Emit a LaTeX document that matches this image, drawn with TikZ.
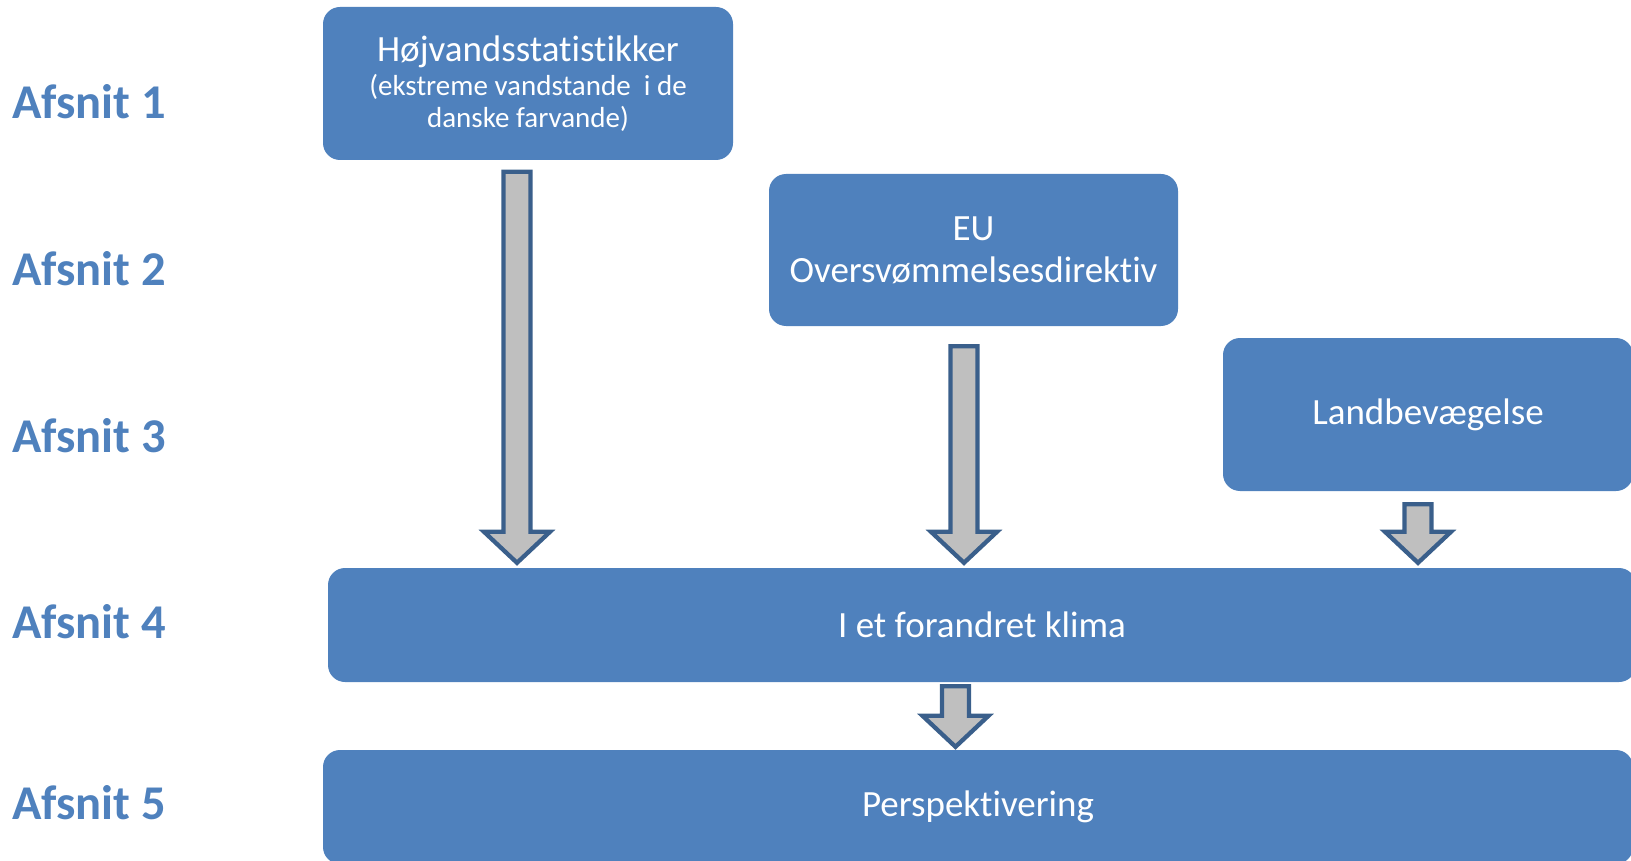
\documentclass[tikz,border=0pt]{standalone}
\usepackage{fontspec}
\setmainfont{Carlito}[RawFeature={-liga;-clig;-calt;-dlig}]
\usetikzlibrary{calc,positioning}
\definecolor{boksblaa}{HTML}{4F81BD}
\definecolor{pilblaa}{HTML}{3A5F8B}
\definecolor{pilgraa}{HTML}{BFBFBF}
\tikzset{
    % Boxes
    boks/.style={
           rectangle,
           rounded corners=17pt,
           fill=boksblaa,
           text=white,
           inner sep=0pt,
           align=center,
           font=\fontsize{37}{41.6}\selectfont},
    % Section labels
    afsnit/.style={
           anchor=base west,
           inner sep=0pt,
           text=boksblaa,
           font=\bfseries\fontsize{48.5}{50}\selectfont},
    % Block arrows
    pil/.style={
           fill=pilgraa,
           draw=pilblaa,
           line width=4.3pt,
           line join=miter}
}
% block arrow from a top coordinate down to a tip coordinate
\newcommand{\blokpil}[2]{%
  \draw[pil] ($(#1)+(-13.5,0)$) -- ($(#1)+(13.5,0)$)
    -- ($(#1|-#2)+(13.5,-31)$) -- ($(#1|-#2)+(33,-31)$)
    -- (#1|-#2)
    -- ($(#1|-#2)+(-33,-31)$) -- ($(#1|-#2)+(-13.5,-31)$) -- cycle;}

\begin{document}
\begin{tikzpicture}[x=1pt,y=-1pt]
\useasboundingbox (0,0) rectangle (1631,861);
\clip (0,0) rectangle (1631,861);

% sections
\node[afsnit] (af1) at (12,119) {Afsnit 1};
\node[afsnit] (af2) at (12,285.5) {Afsnit 2};
\node[afsnit] (af3) at (12,452) {Afsnit 3};
\node[afsnit] (af4) at (12,638.5) {Afsnit 4};
\node[afsnit] (af5) at (12,819.5) {Afsnit 5};

% boxes
\node[boks, minimum width=410pt, minimum height=153pt,
      font=\fontsize{29}{32.3}\selectfont] (hoj) at (528,83.5)
      {{\fontsize{37}{41.6}\selectfont Højvandsstatistikker}\\[2pt]
       (ekstreme vandstande\ \ i de\\ danske farvande)};
\node[boks, minimum width=409pt, minimum height=152pt] (eu) at (973.5,250)
      {EU\\ Oversvømmelsesdirektiv};
\node[boks, minimum width=410pt, minimum height=153pt] (land) at (1428,414.5)
      {Landbevægelse};
\node[boks, minimum width=1308pt, minimum height=114pt] (klima) at (982,625)
      {I et forandret klima};
\node[boks, minimum width=1310pt, minimum height=114pt] (persp) at (978,807)
      {Perspektivering};

% arrows
\coordinate (p1) at ($(hoj.south)+(-11,11.5)$);
\coordinate (p2) at ($(eu.south)+(-9.5,20)$);
\coordinate (p3) at ($(land.south)+(-10,13)$);
\coordinate (p4) at ($(klima.south)+(-26.5,4)$);
\coordinate (q1) at ($(p1|-klima.north)+(0,-5)$);
\coordinate (q2) at ($(p2|-klima.north)+(0,-5)$);
\coordinate (q3) at ($(p3|-klima.north)+(0,-5)$);
\coordinate (q4) at ($(p4|-persp.north)+(0,-3)$);
\blokpil{p1}{q1}
\blokpil{p2}{q2}
\blokpil{p3}{q3}
\blokpil{p4}{q4}
\end{tikzpicture}
\end{document}
